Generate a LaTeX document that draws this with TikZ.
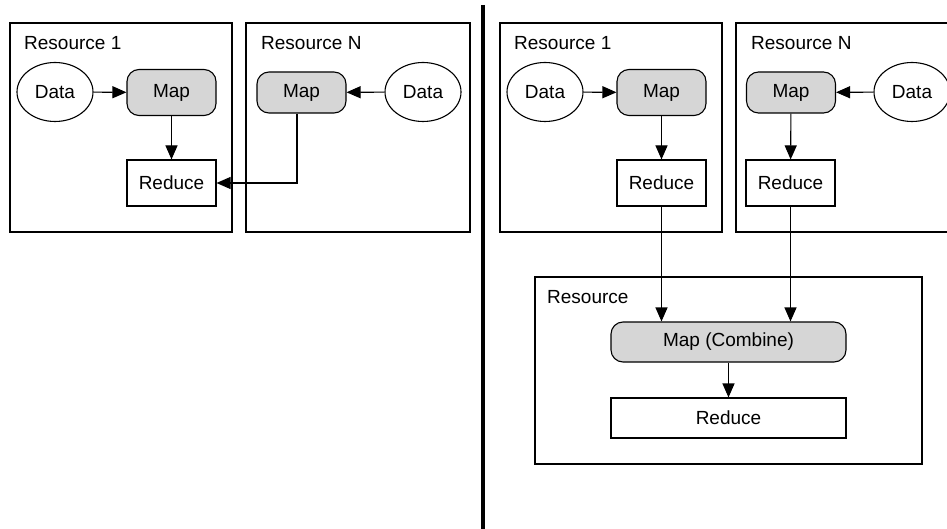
\documentclass[tikz,border=0pt]{standalone}
\usepackage{fontspec}
\setmainfont{Liberation Sans}
\usetikzlibrary{shapes.geometric,arrows.meta}
\definecolor{mapgray}{RGB}{214,214,214}
\begin{document}
\begin{tikzpicture}[x=1pt,y=-1pt,
  every node/.style={font=\fontsize{19}{22}\selectfont, inner sep=0pt},
  resbox/.style={draw, line width=1.4pt},
  reslabel/.style={anchor=west},
  datanode/.style={draw, ellipse, line width=1.1pt, minimum width=76pt, minimum height=59pt},
  mapnode/.style={draw, rounded corners=12pt, fill=mapgray, line width=1.1pt, minimum width=89pt, minimum height=46pt},
  rednode/.style={draw, line width=1.1pt, minimum width=89pt, minimum height=46pt},
  flow/.style={-{Triangle[length=14pt,width=12pt]}, line width=1.1pt}
]
\clip (0,0) rectangle (947,529);
\fill[white] (0,0) rectangle (947,529);

% ---------- left half: reduce on one resource ----------
\node[resbox, minimum width=222pt, minimum height=209pt] (lres1) at (121,127.5) {};
\node[resbox, minimum width=224pt, minimum height=209pt] (lresN) at (358,127.5) {};
\node[reslabel] (lres1lbl) at (24,43) {Resource 1};
\node[reslabel] (lresNlbl) at (261,43) {Resource N};

\node[datanode] (ld1) at (55,92) {Data};
\node[mapnode] (lm1) at (171.5,92.5) {Map};
\node[rednode] (lr1) at (171.5,183) {Reduce};
\node[mapnode, minimum height=41pt] (lmN) at (301.5,92.5) {Map};
\node[datanode] (ldN) at (423,92) {Data};

\draw[flow] (ld1) -- (lm1);
\draw[flow] (lm1) -- (lr1);
\draw[flow] (ldN) -- (lmN);
\draw[flow] (lmN.south -| 297,0) |- (lr1.east);

% ---------- divider ----------
\coordinate (divtop) at (483,5);
\coordinate (divbot) at (483,529);
\draw[line width=3.6pt] (divtop) -- (divbot);

% ---------- right half: map, reduce, then combine ----------
\node[resbox, minimum width=222pt, minimum height=209pt] (rres1) at (611,127.5) {};
\node[resbox, minimum width=224pt, minimum height=209pt] (rresN) at (848,127.5) {};
\node[reslabel] (rres1lbl) at (514,43) {Resource 1};
\node[reslabel] (rresNlbl) at (751,43) {Resource N};

\node[datanode] (rd1) at (545,92) {Data};
\node[mapnode] (rm1) at (661.5,92.5) {Map};
\node[rednode] (rr1) at (661.5,183) {Reduce};
\node[mapnode, minimum height=41pt] (rmN) at (791,92.5) {Map};
\node[rednode] (rrN) at (790.5,183) {Reduce};
\node[datanode] (rdN) at (912,92) {Data};

\draw[flow] (rd1) -- (rm1);
\draw[flow] (rm1) -- (rr1);
\draw[flow] (rdN) -- (rmN);
\draw[flow] (rmN) -- (rrN);

\node[resbox, minimum width=387pt, minimum height=187pt] (rres) at (728.5,370.5) {};
\node[reslabel] (rreslbl) at (547,297) {Resource};
\node[mapnode, minimum width=235pt, minimum height=40pt] (comb) at (728.5,342) {Map (Combine)};
\node[rednode, minimum width=235pt, minimum height=40pt] (fred) at (728.5,418) {Reduce};

\draw[flow] (rr1.south) -- (rr1.south |- comb.north);
\draw[flow] (rrN.south) -- (rrN.south |- comb.north);
\draw[flow] (comb) -- (fred);
\end{tikzpicture}
\end{document}
